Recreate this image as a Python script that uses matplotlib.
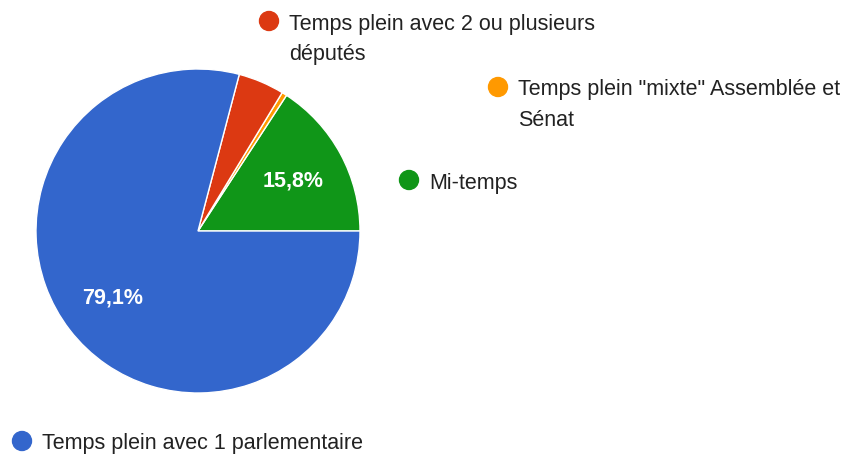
import matplotlib.pyplot as plt
from matplotlib.patches import Circle

plt.rcParams['font.family'] = ['Liberation Sans', 'DejaVu Sans']

# data (counter-clockwise from 3 o'clock)
labels = ["Mi-temps",
          "Temps plein \"mixte\" Assemblée et\nSénat",
          "Temps plein avec 2 ou plusieurs\ndéputés",
          "Temps plein avec 1 parlementaire"]
values = [15.8, 0.5, 4.6, 79.1]
colors = ["#109618", "#ff9900", "#dc3912", "#3366cc"]

# legend layout (pixel coords, top-left origin)
leg_pos = [(409, 181), (498, 88), (269, 22), (22, 442)]

W, H = 854, 456
fig = plt.figure(figsize=(W / 100, H / 100), dpi=100)
ax = fig.add_axes([0, 0, 1, 1])


def pct(p):
    if p < 5:
        return ""
    return ("%.1f%%" % p).replace(".", ",")


wedges, texts, autotexts = ax.pie(values, colors=colors, startangle=0, counterclock=True,
                                  center=(198, H - 232), radius=162, autopct=pct,
                                  pctdistance=0.665, frame=True,
                                  wedgeprops=dict(edgecolor="white", linewidth=1),
                                  textprops=dict(color="white", fontsize=15.5, fontweight="bold"))
ax.set_xlim(0, W)
ax.set_ylim(0, H)
ax.set_aspect("equal")
ax.axis("off")

for (x, y), lab, col in zip(leg_pos, labels, colors):
    ax.add_patch(Circle((x, H - y), 9.5, color=col))
    for i, line in enumerate(lab.split("\n")):
        ax.text(x + 20, H - y - 7.5 - i * 30, line, fontsize=15.5, color="#222222",
                va="baseline", ha="left")

fig.savefig("out.png", dpi=100)
